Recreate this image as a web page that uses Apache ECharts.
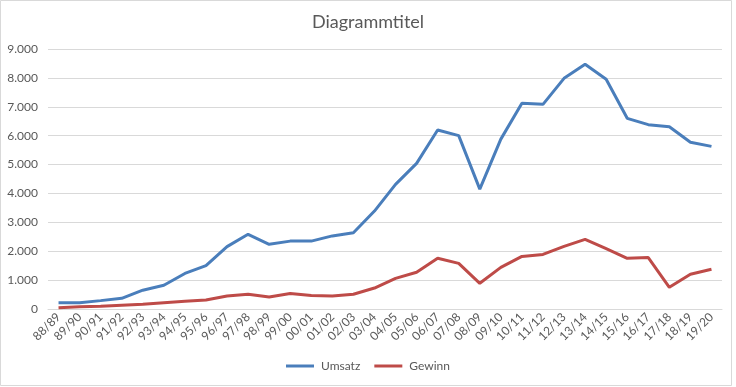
<!DOCTYPE html>
<html>
<head>
<meta charset="utf-8">
<script src="https://cdn.jsdelivr.net/npm/echarts@6/dist/echarts.min.js"></script>
<style>
html,body{margin:0;padding:0;background:#fff;}
#chart{width:736px;height:387px;}
</style>
</head>
<body>
<div id="chart"></div>
<script>
const categories = ["88/89","89/90","90/91","91/92","92/93","93/94","94/95","95/96","96/97","97/98","98/99","99/00","00/01","01/02","02/03","03/04","04/05","05/06","06/07","07/08","08/09","09/10","10/11","11/12","12/13","13/14","14/15","15/16","16/17","17/18","18/19","19/20"];
const umsatz = [220,220,290,370,650,820,1230,1500,2160,2585,2240,2350,2350,2530,2640,3390,4315,5040,6195,6000,4150,5880,7120,7085,7985,8470,7950,6600,6380,6310,5770,5630];
const gewinn = [45,80,95,130,165,220,265,310,450,510,415,540,470,450,510,725,1060,1270,1755,1580,890,1440,1820,1890,2170,2410,2090,1755,1780,750,1200,1375];
const yTicks = {min:0, max:9000, interval:1000};

const fmt = v => v === 0 ? '0' : String(v).replace(/\B(?=(\d{3})+(?!\d))/g, '.');
const font = 'Lato, "Open Sans", sans-serif';

const chart = echarts.init(document.getElementById('chart'), null, {renderer:'canvas'});
chart.setOption({
  animation:false,
  backgroundColor:'#fff',
  textStyle:{fontFamily:font},
  title:{
    text:'Diagrammtitel', left:'center', top:8,
    textStyle:{fontFamily:font, fontSize:18, fontWeight:'normal', color:'#595959'}
  },
  graphic:[{type:'rect', shape:{x:0.5,y:0.5,width:731,height:385}, style:{fill:'none', stroke:'#d9d9d9', lineWidth:1}, silent:true}],
  grid:{left:48, right:14, top:49, bottom:78, containLabel:false},
  legend:{
    bottom:10, left:'center', icon:'rect', itemWidth:28, itemHeight:3, itemGap:14,
    textStyle:{fontFamily:font, fontSize:12, color:'#595959', padding:[0,0,0,2]},
    data:['Umsatz','Gewinn']
  },
  xAxis:{
    type:'category', data:categories, boundaryGap:true,
    axisLine:{lineStyle:{color:'#d9d9d9'}}, axisTick:{show:false},
    axisLabel:{rotate:45, interval:0, fontSize:12, color:'#595959', fontFamily:font, margin:6}
  },
  yAxis:{
    type:'value', min:yTicks.min, max:yTicks.max, interval:yTicks.interval,
    axisLine:{show:false}, axisTick:{show:false},
    splitLine:{lineStyle:{color:'#d9d9d9'}},
    axisLabel:{formatter:fmt, fontSize:12, color:'#595959', fontFamily:font, margin:10}
  },
  series:[
    {name:'Umsatz', type:'line', data:umsatz, symbol:'none', lineStyle:{width:3, color:'#4a7ebb'}, itemStyle:{color:'#4a7ebb'}},
    {name:'Gewinn', type:'line', data:gewinn, symbol:'none', lineStyle:{width:3, color:'#be4b48'}, itemStyle:{color:'#be4b48'}}
  ]
});
</script>
</body>
</html>
